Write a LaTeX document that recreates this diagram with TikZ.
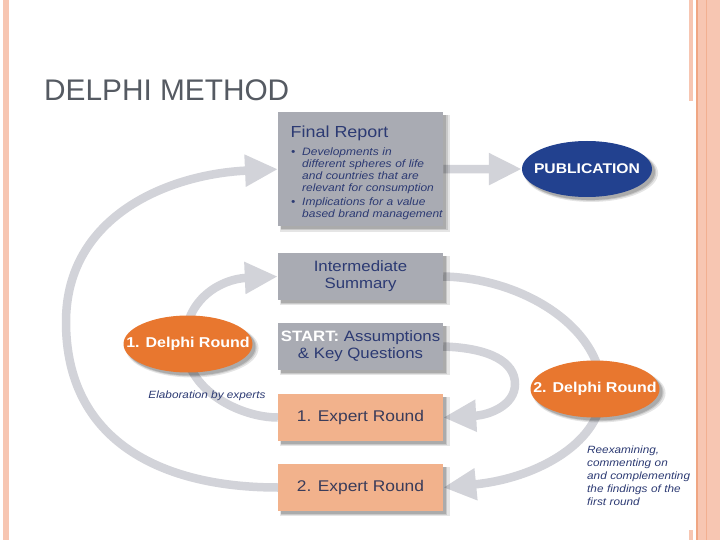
\documentclass[tikz,border=0pt]{standalone}
\usepackage{fontspec}
\setmainfont{Liberation Sans}
\newfontfamily\wf[FakeStretch=1.12]{Liberation Sans}
\usetikzlibrary{arrows.meta,shapes.geometric,shadows}
\pgfdeclarelayer{arrowlayer}
\pgfsetlayers{arrowlayer,main}
\definecolor{arrowgray}{HTML}{D2D3D9}
\definecolor{boxgray}{HTML}{A9ABB3}
\definecolor{salmon}{HTML}{F2B28C}
\definecolor{navytext}{HTML}{2C3A73}
\definecolor{expertText}{HTML}{3A3C5A}
\definecolor{orangeEll}{HTML}{E8772F}
\definecolor{pubNavy}{HTML}{22418F}
\definecolor{titleGray}{HTML}{555A62}
\definecolor{pinkA}{HTML}{F7C6B2}
\definecolor{pinkB}{HTML}{F0A683}
\begin{document}
\begin{tikzpicture}[x=1pt,y=-1pt,
  shd/.style={
    general shadow={fill=black,opacity=0.10,shadow xshift=4pt,shadow yshift=-4pt,shadow scale=1.03},
    general shadow={fill=black,opacity=0.12,shadow xshift=3.5pt,shadow yshift=-3.5pt,shadow scale=1.01},
    general shadow={fill=black,opacity=0.15,shadow xshift=3pt,shadow yshift=-3pt}},
  gbox/.style={shd,fill=boxgray,minimum width=165pt,inner sep=0pt,text=navytext,align=center,
    font=\wf\fontsize{15}{17}\selectfont},
  sbox/.style={shd,fill=salmon,minimum width=165pt,minimum height=47pt,inner sep=0pt,text=expertText,
    font=\wf\fontsize{15.5}{17}\selectfont},
  oell/.style={shd,ellipse,fill=orangeEll,minimum width=129pt,minimum height=57pt,inner sep=0pt},
  ellabel/.style={text=white,font=\wf\bfseries\fontsize{14.3}{16}\selectfont},
  arr/.style={draw=arrowgray,line width=8.5pt,-{Triangle[length=33pt,width=30pt]}},
  captxt/.style={text=navytext,font=\wf\itshape\fontsize{10.5}{13}\selectfont,inner sep=0pt}
]
\begin{pgfonlayer}{arrowlayer}
\fill[white] (0,0) rectangle (720,540);
\end{pgfonlayer}
\useasboundingbox (0,0) rectangle (720,540);
% slide decoration
\fill[pinkA] (3,0) rectangle (8.5,540);
\fill[pinkA] (688.5,0) rectangle (692.5,101);
\fill[pinkA] (688.5,530) rectangle (692.5,540);
\fill[pinkA] (696,0) rectangle (720,540);
\draw[pinkB,line width=1.2pt] (697,0) -- (697,540);
\draw[pinkB!70!pinkA,line width=1pt] (706,0) -- (706,540);

\node[anchor=base west,inner sep=0pt,text=titleGray,font=\fontsize{29.8}{32}\selectfont] (title) at (44,101) {DELPHI METHOD};

% boxes
\node[gbox,minimum height=114pt,anchor=north west] (fr) at (278,112) {};
\node[anchor=base west,inner sep=0pt,text=navytext,font=\wf\fontsize{16}{18}\selectfont] (frtitle) at (290.5,138) {Final Report};
\node[anchor=base west,inner sep=0pt,text width=200pt,align=left,text=navytext,
  font=\wf\itshape\fontsize{10.7}{12}\selectfont] (frlist) at (291,155.7)
  {\makebox[11pt][l]{\textbullet}Developments in\\
   \hspace*{11pt}different spheres of life\\
   \hspace*{11pt}and countries that are\\
   \hspace*{11pt}relevant for consumption\\[1.4pt]
   \makebox[11pt][l]{\textbullet}Implications for a value\\
   \hspace*{11pt}based brand management};

\node[gbox,minimum height=47pt] (is) at (360.5,276.5) {Intermediate\\Summary};
\node[gbox,minimum height=47pt] (st) at (360.5,346.5) {\textcolor{white}{\bfseries START:} Assumptions\\\& Key Questions};
\node[sbox] (er1) at (360.5,417.5) {1. Expert Round};
\node[sbox] (er2) at (360.5,487.5) {2. Expert Round};

% ellipses
\node[shd,ellipse,fill=pubNavy,minimum width=130pt,minimum height=56pt,inner sep=0pt,
  label={[ellabel,font=\wf\bfseries\fontsize{14}{16}\selectfont]center:PUBLICATION}] (pub) at (587,169) {};
\node[oell,label={[ellabel]center:1. Delphi Round}] (d1) at (188,344) {};
\node[oell,label={[ellabel]center:2. Delphi Round}] (d2) at (595,389) {};

% captions
\node[captxt,anchor=base] (elab) at (207,398) {Elaboration by experts};
\node[captxt,anchor=base west,text width=120pt,align=left] (reex) at (587,453)
  {Reexamining,\\commenting on\\and complementing\\the findings of the\\first round};

% arrows
\begin{pgfonlayer}{arrowlayer}
\draw[arr] (fr.east) -- (pub.west);
\draw[arr] (er2.west) .. controls (160,487.5) and (66,440) .. (66,322)
  .. controls (66,215) and (170,174) .. (fr.west);
\draw[arr] (er1.west) .. controls (240,417.5) and (185,390) .. (185,343)
  .. controls (185,300) and (220,279) .. (is.west);
\draw[arr] (is.east) .. controls (520,278) and (600,325) .. (602,390)
  .. controls (603,440) and (540,478) .. (er2.east);
\draw[arr] (st.east) .. controls (490,348) and (515,362) .. (515,384)
  .. controls (515,405) and (490,415) .. (er1.east);
\end{pgfonlayer}
\end{tikzpicture}
\end{document}
